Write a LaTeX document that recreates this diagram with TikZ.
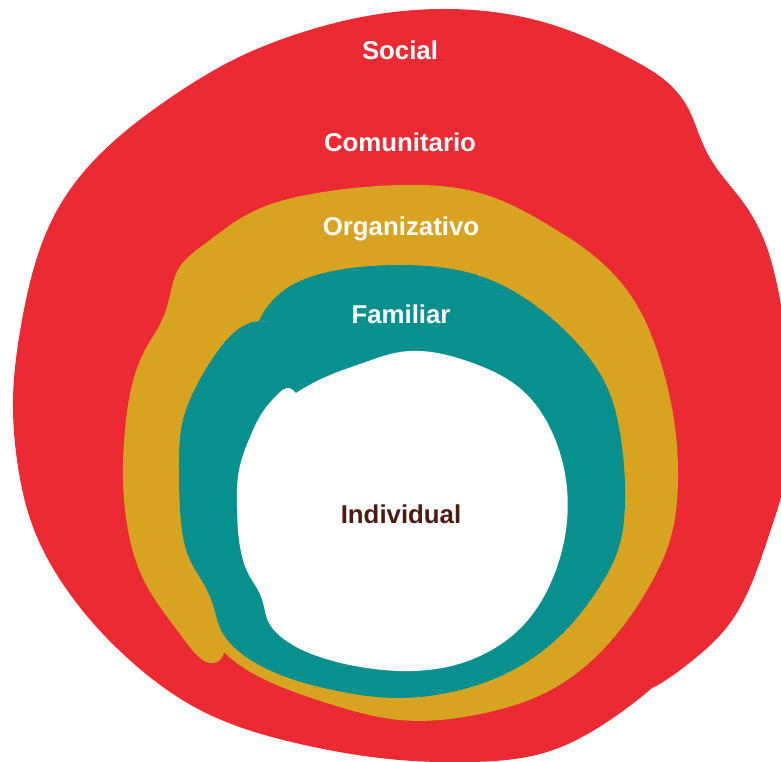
\documentclass[tikz,border=0pt]{standalone}
\usepackage{fontspec}
\setmainfont{Liberation Sans}
\usetikzlibrary{hobby}
\definecolor{socialred}{HTML}{EC2A33}
\definecolor{orggold}{HTML}{D8A321}
\definecolor{famteal}{HTML}{07908D}
\definecolor{indbrown}{HTML}{4A1C14}
\begin{document}
\begin{tikzpicture}[x=1pt,y=-1pt, use Hobby shortcut,
  lbl/.style={font=\fontsize{25.8}{26}\selectfont\bfseries, inner sep=0pt, anchor=base, text=white}]
\useasboundingbox (0,0) rectangle (781,761);
\clip (0,0) rectangle (781,761);

% Social / Comunitario: outer red ring (starts at the small notch, lower right)
\fill[socialred] (652,688) .. (610,720) .. (547,752) .. (470,762) .. (400,760)
  .. (300,744) .. (200,710) .. (133,663) .. (67,590) .. (33,527) .. (17,460)
  .. (13,400) .. (22,320) .. (60,205) .. (167,100)
  .. (233,60) .. (300,33) .. (367,16) .. (440,9) .. (550,24) .. (633,60)
  .. (667,82) .. (688,108) .. (700,137) .. (713,163) .. (740,198) .. (762,235)
  .. (776,280) .. (786,340) .. (790,420) .. (784,485) .. (770,532) .. (755,575)
  .. (727,627) .. (693,660) .. (666,680) .. (658,685) -- cycle;

% Organizativo: gold band (starts at the corner beside its rounded tip)
\fill[orggold] (224,652) .. (220,660) .. (210,663) .. (199,657) .. (180,634)
  .. (160,607) .. (140,572) .. (128,530) .. (123,480) .. (125,430) .. (132,385)
  .. (145,350) .. (163,318) .. (170,295) .. (179,268) .. (202,246) .. (250,213)
  .. (317,193) .. (400,185) .. (480,193) .. (550,226) .. (600,261) .. (635,302)
  .. (660,360) .. (674,420) .. (678,480) .. (670,540) .. (650,585) .. (620,630)
  .. (588,664) .. (547,692) .. (480,714) .. (400,720) .. (330,704) .. (270,682)
  .. (238,664) .. (226,654) -- cycle;

% Familiar: teal band (starts at the step on its upper left)
\fill[famteal] (259,321) .. (283,291) .. (333,271) .. (400,265) .. (480,276)
  .. (550,317) .. (583,350) .. (607,387) .. (620,433) .. (625,500) .. (618,550)
  .. (600,586) .. (563,633) .. (513,670) .. (447,693) .. (400,698) .. (333,690)
  .. (267,669) .. (235,648) .. (221,630) .. (214,608) .. (206,588) .. (190,560)
  .. (181,522) .. (179,470) .. (183,420) .. (198,383) .. (220,348) .. (240,328)
  .. (252,322) -- cycle;

% Individual: white centre (starts at the small knob on its upper left)
\fill[white] (296,393) .. (330,375) .. (363,363) .. (400,352) .. (470,362)
  .. (522,390) .. (552,432) .. (566,480) .. (566,530) .. (552,580) .. (528,620)
  .. (495,648) .. (447,667) .. (400,671) .. (367,668) .. (317,656) .. (280,636)
  .. (268,621) .. (264,607) .. (259,592) .. (250,577) .. (240,547) .. (237,507)
  .. (239,470) .. (250,437) .. (264,410) .. (279,393) .. (287,388) .. (293,390)
  -- cycle;

\node[lbl] (social) at (400,59) {Social};
\node[lbl] (comunitario) at (400,151) {Comunitario};
\node[lbl] (organizativo) at (401,235) {Organizativo};
\node[lbl] (familiar) at (401,323) {Familiar};
\node[lbl, text=indbrown] (individual) at (401,523) {Individual};
\end{tikzpicture}
\end{document}
